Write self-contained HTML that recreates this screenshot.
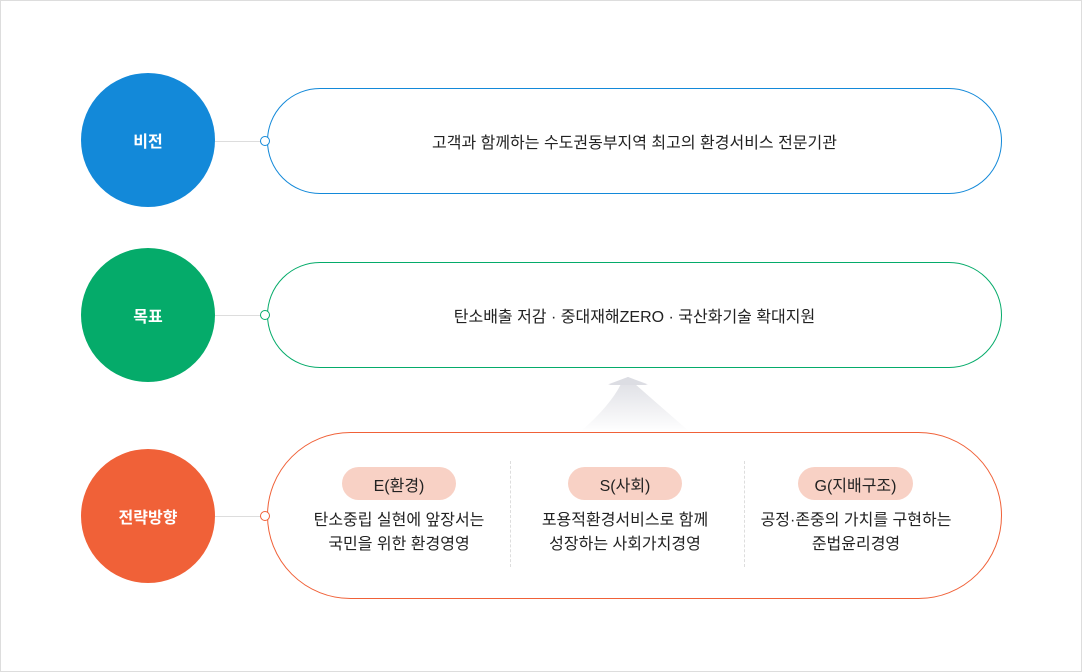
<!DOCTYPE html>
<html><head><meta charset="utf-8"><style>
body{margin:0;width:1082px;height:672px;background:#fff;position:relative;overflow:hidden;font-family:"Liberation Sans","Noto Sans CJK KR",sans-serif;color:#222}
.frame{position:absolute;left:0;top:0;width:1080px;height:670px;border:1px solid #ddd}
.c{position:absolute;left:81px;width:134px;height:134px;border-radius:50%;color:#fff;font-weight:bold;font-size:16px;display:flex;align-items:center;justify-content:center}
.ln{position:absolute;left:215px;width:46px;height:1px;background:#ddd}
.dot{position:absolute;left:260px;width:8px;height:8px;border-radius:50%;background:#fff;border:1px solid}
.p{position:absolute;left:267px;width:733px;border:1px solid;display:flex;align-items:center;justify-content:center;font-size:16px;background:#fff}
.b{position:absolute;top:467px;height:33px;border-radius:17px;background:#f8d1c5;font-size:16px;display:flex;align-items:center;justify-content:center}
.t{position:absolute;top:509px;width:234px;text-align:center;font-size:16px;line-height:24px}
.d{position:absolute;top:461px;height:106px;border-left:1px dashed #ddd}
</style></head><body>
<div class="frame"></div>
<div class="c" style="top:73px;background:#1389d9">비전</div>
<div class="c" style="top:248px;background:#05ab6a">목표</div>
<div class="c" style="top:449px;background:#f06138">전략방향</div>
<div class="ln" style="top:141px"></div>
<div class="ln" style="top:315px"></div>
<div class="ln" style="top:516px"></div>
<div class="p" style="top:88px;height:104px;border-radius:53px;border-color:#1389d9">고객과 함께하는 수도권동부지역 최고의 환경서비스 전문기관</div>
<div class="p" style="top:262px;height:104px;border-radius:53px;border-color:#05ab6a">탄소배출 저감 · 중대재해ZERO · 국산화기술 확대지원</div>
<svg style="position:absolute;left:580px;top:376px" width="110" height="56"><defs><linearGradient id="g" x1="0" y1="0" x2="0" y2="1"><stop offset="0" stop-color="#dcdde3"/><stop offset="1" stop-color="#dcdde3" stop-opacity="0"/></linearGradient></defs><path d="M48 1 L67 8 L55 8 Q80 30 110 56 L0 56 Q30 30 41 8 L29 8 Z" fill="url(#g)"/><path d="M48 1 L68 9 L28 9 Z" fill="#dcdde3"/></svg>
<div class="p" style="top:432px;height:165px;border-radius:84px;border-color:#f06138"></div>
<div class="dot" style="top:136px;border-color:#1389d9"></div>
<div class="dot" style="top:310px;border-color:#05ab6a"></div>
<div class="dot" style="top:511px;border-color:#f06138"></div>
<div class="d" style="left:510px"></div>
<div class="d" style="left:744px"></div>
<div class="b" style="left:342px;width:114px">E(환경)</div>
<div class="b" style="left:568px;width:114px">S(사회)</div>
<div class="b" style="left:798px;width:115px">G(지배구조)</div>
<div class="t" style="left:282px">탄소중립 실현에 앞장서는<br>국민을 위한 환경영영</div>
<div class="t" style="left:508px">포용적환경서비스로 함께<br>성장하는 사회가치경영</div>
<div class="t" style="left:739px">공정·존중의 가치를 구현하는<br>준법윤리경영</div>
</body></html>
